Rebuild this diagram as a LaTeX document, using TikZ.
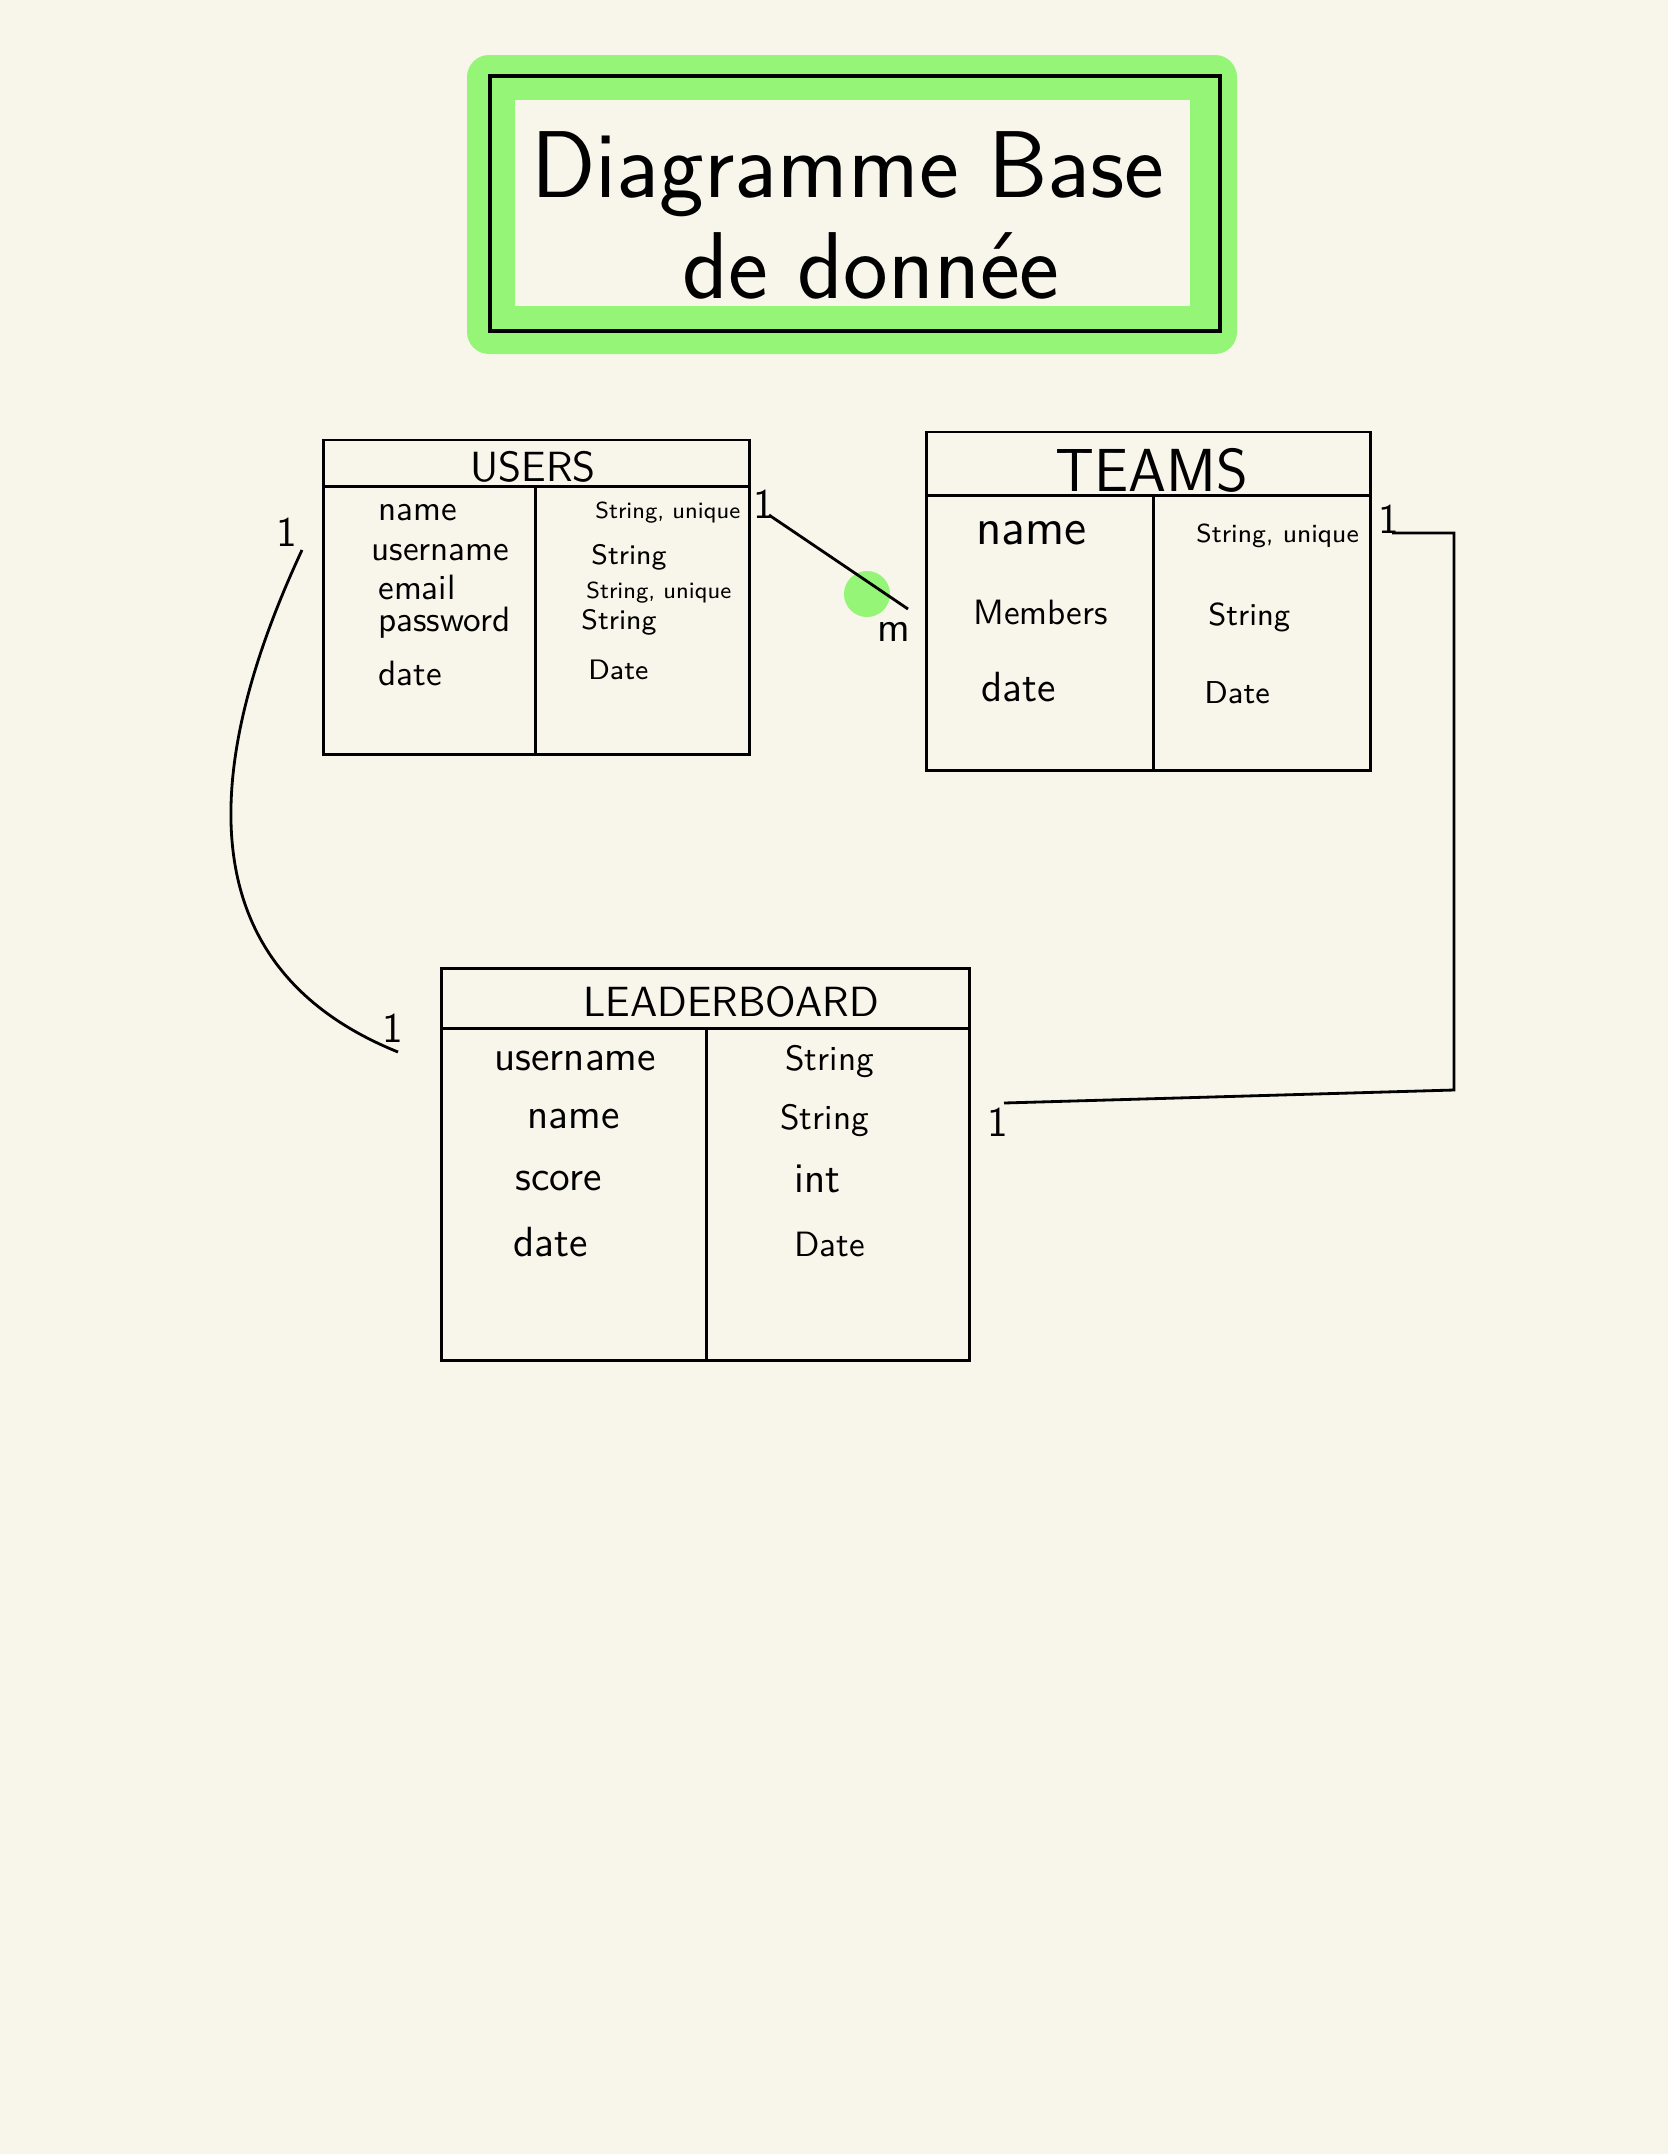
\documentclass[tikz,border=0pt]{standalone}
\usepackage{tikz}
\usetikzlibrary{positioning}
\definecolor{paper}{HTML}{F8F6EB}
\definecolor{marker}{HTML}{94F577}

\begin{document}
\begin{tikzpicture}[x=0.01cm,y=-0.01cm,line width=0.8pt,
  table/.style={draw,rectangle,inner sep=0},
  tabname/.style={font=\sffamily#1},
  field/.style={anchor=west,inner sep=0,font=\sffamily#1},
  card/.style={font=\sffamily\large,inner sep=1pt},
  headline/.style={font=\sffamily\fontsize{27}{32}\selectfont}]

\fill[paper] (0,0) rectangle (1668,2154);
\useasboundingbox (0,0) rectangle (1668,2154);

% title
\fill[marker,rounded corners=0.22cm] (467,55) rectangle (1237,354);
\draw[line width=1pt] (490,76) rectangle (1220,331);
\fill[paper] (515,100) rectangle (1190,306);
\node[headline] (title) at (848,174) {Diagramme Base};
\node[headline] (subtitle) at (871,266) {de donnée};

% users
\node[table,minimum width=4.25cm,minimum height=3.14cm] (users) at (536.5,597) {};
\draw ([yshift=-0.48cm]users.north west) -- ([yshift=-0.48cm]users.north east);
\draw ([shift={(2.13cm,-0.48cm)}]users.north west) -- ([xshift=2.13cm]users.south west);
\node[tabname=\large] (usersname) at (533,467) {USERS};
\node[field=\normalsize] (u-name) at (377,513) {name};
\node[field=\normalsize] (u-user) at (370,553) {username};
\node[field=\normalsize] (u-mail) at (377,587) {email};
\node[field=\normalsize] (u-pass) at (377,623) {password};
\node[field=\normalsize] (u-date) at (377,673) {date};
\node[field=\fontsize{6.6}{8}\selectfont] (u-name-t) at (594,513) {String, unique};
\node[field=\footnotesize] (u-user-t) at (590,557) {String};
\node[field=\fontsize{6.6}{8}\selectfont] (u-mail-t) at (585,593) {String, unique};
\node[field=\footnotesize] (u-pass-t) at (580,622) {String};
\node[field=\footnotesize] (u-date-t) at (587,670) {Date};

% teams
\node[table,minimum width=4.43cm,minimum height=3.38cm] (teams) at (1148.5,601) {};
\draw ([yshift=-0.65cm]teams.north west) -- ([yshift=-0.65cm]teams.north east);
\draw ([shift={(2.28cm,-0.65cm)}]teams.north west) -- ([xshift=2.28cm]teams.south west);
\node[tabname=\LARGE] (teamsname) at (1152,470) {TEAMS};
\node[field=\Large] (t-name) at (975,533) {name};
\node[field=\normalsize] (t-memb) at (972,612) {Members};
\node[field=\large] (t-date) at (980,687) {date};
\node[field=\fontsize{7.4}{9}\selectfont] (t-name-t) at (1195,536) {String, unique};
\node[field=\small] (t-memb-t) at (1207,617) {String};
\node[field=\small] (t-date-t) at (1203,693) {Date};

% leaderboard
\node[table,minimum width=5.27cm,minimum height=3.91cm] (board) at (705.5,1164.5) {};
\draw ([yshift=-0.61cm]board.north west) -- ([yshift=-0.61cm]board.north east);
\draw ([shift={(2.66cm,-0.61cm)}]board.north west) -- ([xshift=2.66cm]board.south west);
\node[tabname=\large] (boardname) at (731,1002) {LEADERBOARD};
\node[field=\large] (b-user) at (493,1061) {username};
\node[field=\large] (b-name) at (526,1119) {name};
\node[field=\large] (b-score) at (514,1181) {score};
\node[field=\large] (b-date) at (512,1242) {date};
\node[field=\normalsize] (b-user-t) at (784,1062) {String};
\node[field=\normalsize] (b-name-t) at (779,1121) {String};
\node[field=\large] (b-score-t) at (793,1179) {int};
\node[field=\normalsize] (b-date-t) at (793,1244) {Date};

% links
\coordinate (u1) at (769,515);
\coordinate (t1) at (908,609);
\node[circle,fill=marker,minimum size=0.46cm,inner sep=0] (spot) at (867,594) {};
\draw (u1) -- (t1);
\node[card] (u1-lab) at (764,504) {1};
\node[card] (t1-lab) at (894,632) {m};

\coordinate (u2) at (302,550);
\coordinate (b2) at (398,1052);
\draw (u2) .. controls (195,780) and (195,970) .. (b2);
\node[card] (u2-lab) at (287,532) {1};
\node[card] (b2-lab) at (393,1028) {1};

\coordinate (t3) at (1392,533);
\coordinate (bend) at (1454,1090);
\coordinate (b3) at (1004,1103);
\draw (t3) -| (bend) -- (b3);
\node[card] (t3-lab) at (1389,519) {1};
\node[card] (b3-lab) at (998,1122) {1};

\end{tikzpicture}
\end{document}
